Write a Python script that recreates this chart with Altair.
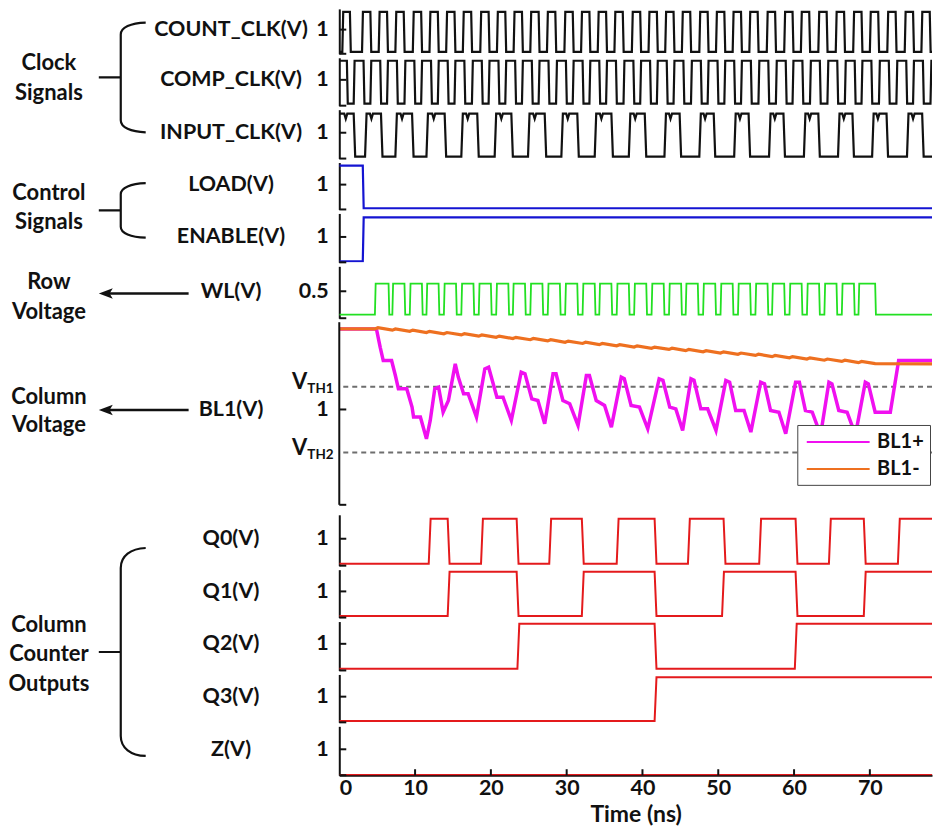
import altair as alt
import pandas as pd

# ------------------------------------------------------------------ data
T_MAX = 78.2
TIME_TICKS = [0, 10, 20, 30, 40, 50, 60, 70]

count_clk_rise = [0.4, 3.0, 5.2, 7.4, 9.7, 11.9, 14.1, 16.3, 18.6, 20.8, 23.0, 25.2, 27.4, 29.7, 31.9, 34.1,
                  36.3, 38.6, 40.8, 43.0, 45.2, 47.5, 49.7, 51.9, 54.1, 56.4, 58.7, 60.9, 63.2, 65.5, 67.8,
                  70.0, 72.3, 74.6, 76.8]
count_clk_fall = [1.4, 4.1, 6.3, 8.5, 10.8, 13.0, 15.2, 17.4, 19.7, 21.9, 24.1, 26.3, 28.5, 30.8, 33.0, 35.2,
                  37.4, 39.7, 41.9, 44.1, 46.3, 48.6, 50.8, 53.0, 55.2, 57.5, 59.8, 62.0, 64.3, 66.6, 68.9,
                  71.1, 73.4, 75.7, 77.9]
comp_clk_rise = [0.0, 1.9, 4.1, 6.3, 8.6, 10.8, 13.0, 15.2, 17.5, 19.7, 21.9, 24.1, 26.3, 28.6, 30.8, 33.0,
                 35.2, 37.5, 39.7, 41.9, 44.1, 46.4, 48.6, 50.8, 53.0, 55.3, 57.6, 59.8, 62.1, 64.4, 66.7,
                 68.9, 71.2, 73.5, 75.7, 78.0]
comp_clk_fall = [1.0, 3.2, 5.4, 7.6, 9.9, 12.1, 14.3, 16.5, 18.8, 21.0, 23.2, 25.4, 27.6, 29.9, 32.1, 34.3,
                 36.5, 38.8, 41.0, 43.2, 45.4, 47.7, 49.9, 52.1, 54.3, 56.6, 58.9, 61.1, 63.4, 65.7, 68.0,
                 70.2, 72.5, 74.8, 77.0]
input_clk_rise = [0.0, 3.4, 7.4, 11.5, 16.1, 20.5, 24.9, 29.3, 33.7, 38.2, 42.9, 47.5, 52.1, 56.7, 61.3,
                  65.8, 70.3, 74.9]
input_clk_fall = [1.9, 5.5, 9.6, 13.9, 18.2, 22.7, 27.1, 31.4, 35.9, 40.3, 44.9, 49.4, 54.0, 58.6, 63.2,
                  67.7, 72.2, 76.9]
load_rise = [0.0]
load_fall = [3.1]
enable_rise = [3.1]
enable_fall = []
wl_rise = [4.7, 7.0, 9.3, 11.5, 13.8, 16.1, 18.4, 20.7, 22.9, 25.2, 27.5, 29.8, 32.1, 34.3, 36.6, 38.9,
           41.2, 43.5, 45.7, 48.0, 50.3, 52.6, 54.9, 57.1, 59.4, 61.7, 64.0, 66.3, 68.5]
wl_fall = [6.5, 8.6, 10.9, 13.1, 15.4, 17.7, 20.0, 22.3, 24.5, 26.8, 29.1, 31.4, 33.7, 35.9, 38.2, 40.5,
           42.8, 45.1, 47.3, 49.6, 51.9, 54.2, 56.5, 58.7, 61.0, 63.3, 65.6, 67.9, 70.7]
q0_rise = [11.8, 18.7, 27.7, 36.6, 46.0, 55.4, 64.6, 73.7]
q0_fall = [14.3, 23.4, 32.0, 41.6, 50.7, 60.2, 69.2]
q1_rise = [14.3, 32.0, 50.5, 69.2]
q1_fall = [23.4, 41.6, 60.2]
q2_rise = [23.5, 60.1]
q2_fall = [41.6]
q3_rise = [41.6]
q3_fall = []
z_rise = []
z_fall = []

bl1p_t = [0, 4.9, 5.4, 5.8, 6.9, 7.4, 7.8, 8.9, 9.6, 9.8, 10.7, 11.5, 12.0, 12.6, 13.1, 13.7, 14.4, 15.3,
          15.7, 16.4, 17.0, 18.1, 19.2, 19.7, 20.8, 21.6, 22.7, 24.0, 24.5, 25.4, 26.2, 27.1, 28.2, 28.6,
          29.5, 30.4, 31.5, 32.6, 33.0, 33.9, 35.0, 35.9, 37.2, 37.6, 38.5, 39.6, 40.7, 42.2, 42.7, 43.6,
          44.4, 45.3, 46.4, 46.8, 47.7, 48.6, 49.7, 51.0, 51.5, 52.3, 53.4, 54.3, 55.6, 56.1, 56.9, 58.0,
          58.9, 60.2, 60.7, 61.5, 62.4, 63.5, 64.6, 65.0, 65.9, 67.0, 68.1, 69.4, 69.8, 70.7, 72.7, 73.8, 78.2]
bl1p_v = [1.538, 1.538, 1.415, 1.327, 1.327, 1.227, 1.138, 1.138, 1.016, 0.949, 0.949, 0.804, 0.927, 1.138,
          1.149, 0.982, 1.06, 1.305, 1.216, 1.105, 1.105, 0.949, 1.271, 1.282, 1.082, 1.082, 0.927, 1.249,
          1.238, 1.071, 1.06, 0.904, 1.238, 1.238, 1.06, 1.038, 0.893, 1.227, 1.227, 1.06, 1.027, 0.882,
          1.216, 1.205, 1.027, 1.016, 0.871, 1.205, 1.195, 1.016, 1.004, 0.86, 1.205, 1.195, 1.004, 1.004,
          0.86, 1.193, 1.182, 0.993, 0.993, 0.849, 1.182, 1.171, 0.993, 0.982, 0.838, 1.182, 1.182, 0.993,
          0.982, 0.83, 1.182, 1.171, 0.993, 0.982, 0.83, 1.182, 1.171, 0.982, 0.982, 1.327, 1.327]
bl1m_t = [0, 4.7, 5.1, 7.0, 7.4, 9.3, 9.7, 11.5, 11.9, 13.8, 14.2, 16.1, 16.5, 18.4, 18.8, 20.7, 21.1,
          22.9, 23.3, 25.2, 25.6, 27.5, 27.9, 29.8, 30.2, 32.1, 32.5, 34.3, 34.7, 36.6, 37.0, 38.9, 39.3,
          41.2, 41.6, 43.5, 43.9, 45.7, 46.1, 48.0, 48.4, 50.3, 50.7, 52.6, 53.0, 54.9, 55.3, 57.1, 57.5,
          59.4, 59.8, 61.7, 62.1, 64.0, 64.4, 66.3, 66.7, 68.5, 68.9, 70.7, 78.2]
bl1m_v = [1.538, 1.538, 1.546, 1.530, 1.538, 1.522, 1.530, 1.514, 1.522, 1.506, 1.514, 1.498, 1.506, 1.490,
          1.498, 1.482, 1.490, 1.474, 1.482, 1.466, 1.474, 1.458, 1.466, 1.449, 1.457, 1.441, 1.449, 1.433,
          1.441, 1.425, 1.433, 1.417, 1.425, 1.409, 1.417, 1.401, 1.409, 1.393, 1.401, 1.385, 1.393, 1.377,
          1.385, 1.369, 1.377, 1.361, 1.369, 1.353, 1.361, 1.345, 1.353, 1.337, 1.345, 1.329, 1.337, 1.321,
          1.329, 1.313, 1.321, 1.306, 1.305]
VTH1 = 1.152
VTH2 = 0.712
BL1_AXIS_BOTTOM = 0.363
HI = 1.8
WL_HI = 0.665

# ------------------------------------------------------------------ style
FONT = "Lato"
BLACK = "#111111"
BLUE = "#1414d2"
GREEN = "#22e022"
RED = "#e41a1c"
MAG = "#f010f0"
ORG = "#ee7020"
OX, OY = 339, 8          # page position of the plot origin of the first panel
W = 594
ONE = pd.DataFrame({"d": [0]})
GROUP_FS = 22
LABEL_FS = 21.5
TXT_X = 48


def digital(rises, falls, hi, lo=0.0, tr=0.12, notch=False):
    ev = sorted([(t, hi) for t in rises] + [(t, lo) for t in falls])
    level = lo
    pts = []
    if ev and ev[0][0] <= 0:
        level = ev[0][1]
        ev = ev[1:]
    pts.append((0.0, level))
    if notch and level == hi and ev:
        c = 0.45 * ev[0][0]
        pts += [(c - 0.2, hi), (c, hi - 0.22), (c + 0.2, hi)]
    for k, (t, new) in enumerate(ev):
        pts.append((t, level))
        pts.append((min(t + tr, T_MAX), new))
        if notch and new == hi and k + 1 < len(ev):
            c = t + 0.4 * (ev[k + 1][0] - t)
            pts += [(c - 0.2, hi), (c, hi - 0.22), (c + 0.2, hi)]
        level = new
    pts.append((T_MAX, level))
    df = pd.DataFrame(pts, columns=["t", "v"])
    df["i"] = range(len(df))
    return df


def dom_for(h, top_m, bot_m, hi=HI):
    k = (h - top_m - bot_m) / hi
    return [-bot_m / k, hi + top_m / k]


def xenc(axis=None):
    return alt.X("t:Q", scale=alt.Scale(domain=[0, T_MAX], nice=False, zero=False), axis=axis)


def yaxis(title, tick, ty, fmt, domain=True):
    return alt.Axis(values=[tick], title=title, titleAngle=0, titleAlign="center", titleBaseline="middle",
                    titleX=-109, titleY=ty, ticks=False, tickSize=0, labelPadding=11, grid=False,
                    format=fmt, domain=domain)


def panel(df, color, title, tick, h, dom, sw=2.0, extra=(), x_axis=None, fmt="d"):
    ty = h * (dom[1] - tick) / (dom[1] - dom[0])
    line = alt.Chart(df).mark_line(color=color, strokeWidth=sw, clip=True).encode(
        x=xenc(x_axis),
        y=alt.Y("v:Q", scale=alt.Scale(domain=dom, nice=False, zero=False), axis=yaxis(title, tick, ty, fmt)),
        order="i:Q")
    ticks = alt.Chart(pd.DataFrame({"v": [dom[0], tick]})).mark_rule(color=BLACK, strokeWidth=2).encode(
        y="v:Q", x=alt.value(0), x2=alt.value(7))
    return alt.layer(line, ticks, *extra).properties(width=W, height=h)


def txt(s, px, py, size=GROUP_FS, align="center"):
    return alt.Chart(ONE).mark_text(text=s, font=FONT, fontSize=size, fontWeight="bold", color=BLACK,
                                    align=align, baseline="middle").encode(
        x=alt.value(px - OX), y=alt.value(py - OY))


def brace(cx, top, bottom, curl, arm=25, tick=22):
    u = (bottom - top) / 2
    cy = (top + bottom) / 2

    def f(v):
        return f"{v / u:.4f}"
    path = (f"M {f(arm)} {f(-u)} C {f(arm * 0.4)} {f(-u + 0.5)} 0 {f(-u + curl * 0.4)} 0 {f(-u + curl)} "
            f"L 0 {f(u - curl)} C 0 {f(u - curl * 0.4)} {f(arm * 0.4)} {f(u - 0.5)} {f(arm)} {f(u)} "
            f"M 0 0 L {f(-tick)} 0")
    return alt.Chart(ONE).mark_point(shape=path, size=4 * u * u, filled=False, color=BLACK,
                                     strokeWidth=2.2, opacity=1).encode(
        x=alt.value(cx - OX), y=alt.value(cy - OY))


def arrow(py, x0=98, x1=188):
    ln = alt.Chart(ONE).mark_rule(color=BLACK, strokeWidth=2.5).encode(
        x=alt.value(x0 + 8 - OX), x2=alt.value(x1 - OX), y=alt.value(py - OY))
    head = alt.Chart(ONE).mark_point(shape="M -1 0 L 1 -0.75 L 0.55 0 L 1 0.75 Z", size=196, filled=True,
                                     color=BLACK, opacity=1, strokeWidth=0).encode(
        x=alt.value(x0 + 7 - OX), y=alt.value(py - OY))
    return [ln, head]


# ------------------------------------------------------------------ decorations (left side)
deco = [
    txt("Clock", TXT_X, 62), txt("Signals", TXT_X, 92),
    txt("Control", TXT_X, 193), txt("Signals", TXT_X, 222),
    txt("Row", TXT_X, 282), txt("Voltage", TXT_X, 312),
    txt("Column", TXT_X, 397), txt("Voltage", TXT_X, 425),
    txt("Column", TXT_X, 625), txt("Counter", TXT_X, 655), txt("Outputs", TXT_X, 685),
    brace(120, 21.7, 131.7, 12),
    brace(120, 182.7, 237.3, 11),
    brace(120, 548.3, 756.7, 20),
    *arrow(293.3), *arrow(410),
]

# ------------------------------------------------------------------ panels
H = [45, 48, 49, 47, 49, 52, 189, 51, 48, 49, 48, 49]
BL1_AXIS_PX = 183

d1 = dom_for(H[0], 3, 2)
p1 = panel(digital(count_clk_rise, count_clk_fall, HI), BLACK, "COUNT_CLK(V)", 1, H[0], d1, 2.2, extra=deco)
d2 = dom_for(H[1], 3, 2)
p2 = panel(digital(comp_clk_rise, comp_clk_fall, HI), BLACK, "COMP_CLK(V)", 1, H[1], d2, 2.2)
d3 = dom_for(H[2], 4, 2)
p3 = panel(digital(input_clk_rise, input_clk_fall, HI, tr=0.2, notch=True), BLACK, "INPUT_CLK(V)", 1,
           H[2], d3, 2.2)
d4 = dom_for(H[3], 3, 1)
p4 = panel(digital(load_rise, load_fall, HI), BLUE, "LOAD(V)", 1, H[3], d4, 2.2)
d5 = dom_for(H[4], 4, 1)
p5 = panel(digital(enable_rise, enable_fall, HI), BLUE, "ENABLE(V)", 1, H[4], d5, 2.2)
d6 = [-0.079, 1.036]
p6 = panel(digital(wl_rise, wl_fall, WL_HI, tr=0.1), GREEN, "WL(V)", 0.5, H[5], d6, 1.8, fmt=".1f")

# BL1 panel
d7 = [0.323, 1.583]
dfp = pd.DataFrame({"t": bl1p_t, "v": bl1p_v})
dfp["i"] = range(len(dfp))
dfp["s"] = "BL1+"
dfm = pd.DataFrame({"t": bl1m_t, "v": bl1m_v})
dfm["i"] = range(len(dfm))
dfm["s"] = "BL1-"
leg = alt.Legend(title=None, orient="none", legendX=459, legendY=103, fillColor="white",
                 strokeColor="#444444", padding=6, symbolType="M -3.15 0 H 3.15", symbolSize=400,
                 symbolStrokeWidth=2, symbolOffset=24, labelOffset=28, labelFont=FONT, labelFontSize=20,
                 labelFontWeight="bold", labelColor=BLACK, rowPadding=6)
cscale = alt.Scale(domain=["BL1+", "BL1-"], range=[MAG, ORG])
ty7 = H[6] * (d7[1] - 1) / (d7[1] - d7[0])
y7 = alt.Y("v:Q", scale=alt.Scale(domain=d7, nice=False, zero=False),
           axis=yaxis("BL1(V)", 1, ty7, "d", domain=False))
vth = pd.DataFrame({"v": [VTH1, VTH2]})
dash = alt.Chart(vth).mark_rule(color="#6e6e6e", strokeWidth=2, strokeDash=[5, 4]).encode(y="v:Q")
mag = alt.Chart(dfp).mark_line(strokeWidth=3.5, clip=True).encode(
    x=xenc(), y=y7, order="i:Q", color=alt.Color("s:N", scale=cscale, legend=leg))
org = alt.Chart(dfm).mark_line(strokeWidth=3.2, clip=True).encode(
    x=xenc(), y="v:Q", order="i:Q", color=alt.Color("s:N", scale=cscale, legend=leg))
axis7 = alt.Chart(ONE).mark_rule(color=BLACK, strokeWidth=2).encode(
    x=alt.value(0), y=alt.value(0), y2=alt.value(BL1_AXIS_PX))
ticks7 = alt.Chart(pd.DataFrame({"v": [BL1_AXIS_BOTTOM, 1]})).mark_rule(color=BLACK, strokeWidth=2).encode(
    y="v:Q", x=alt.value(0), x2=alt.value(7))
vlab = []
for val, sub in [(VTH1, "TH1"), (VTH2, "TH2")]:
    vlab.append(alt.Chart(ONE).mark_text(text="V", font=FONT, fontSize=22, fontWeight="bold", color=BLACK,
                                         align="right", baseline="middle", dy=-5).encode(
        x=alt.value(-32), y=alt.datum(val)))
    vlab.append(alt.Chart(ONE).mark_text(text=sub, font=FONT, fontSize=13.5, fontWeight="bold", color=BLACK,
                                         align="left", baseline="middle", dy=2).encode(
        x=alt.value(-32), y=alt.datum(val)))
p7 = alt.layer(dash, mag, org, axis7, ticks7, *vlab).properties(width=W, height=H[6])

d8 = dom_for(H[7], 4, 2)
p8 = panel(digital(q0_rise, q0_fall, HI, tr=0.25), RED, "Q0(V)", 1, H[7], d8)
d9 = dom_for(H[8], 2, 1.5)
p9 = panel(digital(q1_rise, q1_fall, HI, tr=0.25), RED, "Q1(V)", 1, H[8], d9)
d10 = dom_for(H[9], 2.3, 1.7)
p10 = panel(digital(q2_rise, q2_fall, HI, tr=0.25), RED, "Q2(V)", 1, H[9], d10)
d11 = dom_for(H[10], 2.7, 1.3)
p11 = panel(digital(q3_rise, q3_fall, HI, tr=0.25), RED, "Q3(V)", 1, H[10], d11)
d12 = [0, 1.885]
xax = alt.Axis(values=TIME_TICKS, title="Time (ns)", ticks=False, tickSize=0, labelPadding=2,
               titlePadding=5, titleFontSize=23, grid=False, format="d")
xticks = alt.Chart(pd.DataFrame({"t": TIME_TICKS[1:]})).mark_rule(color=BLACK, strokeWidth=2).encode(
    x="t:Q", y=alt.value(H[11] - 6), y2=alt.value(H[11]))
p12 = panel(digital(z_rise, z_fall, HI), RED, "Z(V)", 1, H[11], d12, 2.6, extra=[xticks], x_axis=xax)

chart = (
    alt.vconcat(p1, p2, p3, p4, p5, p6, p7, p8, p9, p10, p11, p12, spacing=4, bounds="flush")
    .resolve_legend(color="independent")
    .properties(padding=0, background="white")
    .configure_view(stroke=None)
    .configure_axis(domainColor=BLACK, domainWidth=2, labelFont=FONT, labelFontSize=LABEL_FS,
                    labelFontWeight="bold", labelColor=BLACK, titleFont=FONT, titleFontSize=LABEL_FS,
                    titleFontWeight="bold", titleColor=BLACK)
)

chart.save("out.html", embed_options={"renderer": "svg", "actions": False})
